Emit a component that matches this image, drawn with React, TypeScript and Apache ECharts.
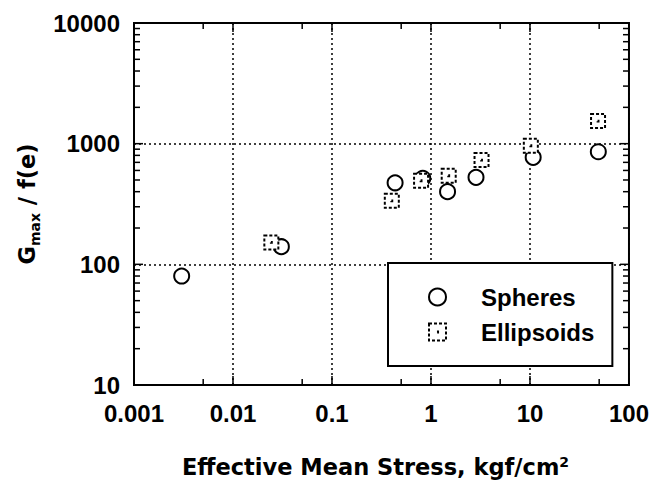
import React, { useEffect, useRef } from "react";
import * as echarts from "echarts";

const spheresStress = [0.00303, 0.0308, 0.434, 0.826, 1.47, 2.85, 10.77, 49.0];
const spheresG = [80, 140, 474, 516, 400, 526, 770, 857];
const ellipsoidsStress = [0.0244, 0.402, 0.794, 1.51, 3.24, 10.2, 48.7];
const ellipsoidsG = [152, 336, 493, 542, 731, 961, 1538];

const xTickLabels = ["0.001", "0.01", "0.1", "1", "10", "100"];
const yTickLabels = ["10", "100", "1000", "10000"];
const xMajorTicks = [0.01, 0.1, 1, 10];
const xMinorTicks = [0.005, 0.05, 0.5, 5, 50];
const yMajorTicks = [100, 1000];
const yMinorTicks = [
  20, 30, 40, 50, 60, 70, 80, 90,
  200, 300, 400, 500, 600, 700, 800, 900,
  2000, 3000, 4000, 5000, 6000, 7000, 8000, 9000,
];

const FONT = "'Liberation Sans', Arial, Helvetica, sans-serif";
const TITLE_FONT = "'DejaVu Sans', 'Liberation Sans', sans-serif";
const SQUARE_PATH = "path://M0 0H16V16H0Z M7.5 7.5H8.5V8.5H7.5Z";

function tickSeries(kind: "x" | "y", values: number[], len: number) {
  return {
    type: "custom",
    coordinateSystem: "cartesian2d",
    silent: true,
    clip: false,
    z: 5,
    data: values.map((v) => (kind === "x" ? [v, 100] : [1, v])),
    renderItem: (params: any, api: any) => {
      const cs = params.coordSys;
      const p = api.coord([api.value(0), api.value(1)]);
      const style = { stroke: "#000", lineWidth: 1.5 };
      if (kind === "y") {
        const y = p[1];
        const l = cs.x;
        const r = cs.x + cs.width;
        return {
          type: "group",
          children: [
            { type: "line", shape: { x1: l, y1: y, x2: l + len, y2: y }, style },
            { type: "line", shape: { x1: r - len, y1: y, x2: r, y2: y }, style },
          ],
        };
      }
      const x = p[0];
      const t = cs.y;
      const b = cs.y + cs.height;
      return {
        type: "group",
        children: [
          { type: "line", shape: { x1: x, y1: t, x2: x, y2: t + len }, style },
          { type: "line", shape: { x1: x, y1: b - len, x2: x, y2: b }, style },
        ],
      };
    },
  };
}

export default function App() {
  const ref = useRef<HTMLDivElement>(null);
  useEffect(() => {
    if (!ref.current) return;
    const chart = echarts.init(ref.current, undefined, { renderer: "svg" });
    const labelStyle = {
      fontFamily: FONT,
      fontSize: 24,
      fontWeight: "bold",
      color: "#000",
    };
    const titleStyle = {
      fontFamily: TITLE_FONT,
      fontSize: 22.5,
      fontWeight: "bold",
      color: "#000",
    };
    chart.setOption({
      animation: false,
      backgroundColor: "#fff",
      grid: {
        left: 134,
        right: 22,
        top: 23,
        bottom: 104,
        show: true,
        borderColor: "#000",
        borderWidth: 2,
        backgroundColor: "transparent",
      },
      xAxis: {
        type: "log",
        logBase: 10,
        min: 0.001,
        max: 100,
        splitNumber: 5,
        axisLine: { show: true, lineStyle: { color: "#000", width: 2 } },
        axisTick: { show: false },
        minorTick: { show: false },
        splitLine: {
          show: true,
          lineStyle: { color: "#000", width: 1.5, type: [2, 3] },
        },
        axisLabel: {
          ...labelStyle,
          margin: 16,
          formatter: (_v: number, i: number) => xTickLabels[i] ?? "",
        },
        name: "Effective Mean Stress, kgf/cm{sup|2}",
        nameLocation: "middle",
        nameGap: 70,
        nameTextStyle: {
          ...titleStyle,
          lineHeight: 24,
          padding: [0, 12, 0, 0],
          rich: {
            sup: {
              fontFamily: TITLE_FONT,
              fontSize: 14,
              fontWeight: "bold",
              color: "#000",
              lineHeight: 12,
              verticalAlign: "top",
            },
          },
        },
      },
      yAxis: {
        type: "log",
        logBase: 10,
        min: 10,
        max: 10000,
        splitNumber: 3,
        axisLine: { show: true, lineStyle: { color: "#000", width: 2 } },
        axisTick: { show: false },
        minorTick: { show: false },
        splitLine: {
          show: true,
          lineStyle: { color: "#000", width: 1.5, type: [2, 3] },
        },
        axisLabel: {
          ...labelStyle,
          margin: 14,
          formatter: (_v: number, i: number) => yTickLabels[i] ?? "",
        },
        name: "G{sub|max} / f(e)",
        nameLocation: "middle",
        nameRotate: 90,
        nameGap: 92,
        nameTextStyle: {
          ...titleStyle,
          lineHeight: 30,
          rich: {
            sub: {
              fontFamily: TITLE_FONT,
              fontSize: 14,
              fontWeight: "bold",
              color: "#000",
              lineHeight: 12,
              verticalAlign: "bottom",
            },
          },
        },
      },
      legend: {
        show: true,
        orient: "vertical",
        left: 388,
        top: 263,
        padding: [22, 18, 22, 40],
        itemGap: 11,
        itemWidth: 17,
        itemHeight: 17,
        borderColor: "#000",
        borderWidth: 2,
        borderRadius: 0,
        backgroundColor: "#fff",
        textStyle: { ...labelStyle, lineHeight: 24, padding: [0, 0, 0, 30] },
        data: [
          {
            name: "Spheres",
            icon: "circle",
            itemStyle: { color: "#fff", borderColor: "#000", borderWidth: 2 },
          },
          {
            name: "Ellipsoids",
            icon: SQUARE_PATH,
            itemStyle: {
              color: "#fff",
              borderColor: "#000",
              borderWidth: 2,
              borderType: [3, 2],
            },
          },
        ],
      },
      series: [
        tickSeries("y", yMinorTicks, 6),
        tickSeries("y", yMajorTicks, 9),
        tickSeries("x", xMinorTicks, 6),
        tickSeries("x", xMajorTicks, 9),
        {
          name: "Spheres",
          type: "scatter",
          symbol: "circle",
          symbolSize: 15,
          z: 3,
          itemStyle: { color: "#fff", borderColor: "#000", borderWidth: 2, opacity: 1 },
          data: spheresStress.map((x, i) => [x, spheresG[i]]),
        },
        {
          name: "Ellipsoids",
          type: "scatter",
          symbol: SQUARE_PATH,
          symbolSize: 14,
          z: 4,
          itemStyle: {
            color: "#fff",
            borderColor: "#000",
            borderWidth: 2,
            borderType: [3, 2],
            opacity: 1,
          },
          data: ellipsoidsStress.map((x, i) => [x, ellipsoidsG[i]]),
        },
      ],
    });
    return () => chart.dispose();
  }, []);
  return (
    <div
      ref={ref}
      style={{ position: "absolute", left: 0, top: 0, width: 652, height: 489 }}
    />
  );
}
